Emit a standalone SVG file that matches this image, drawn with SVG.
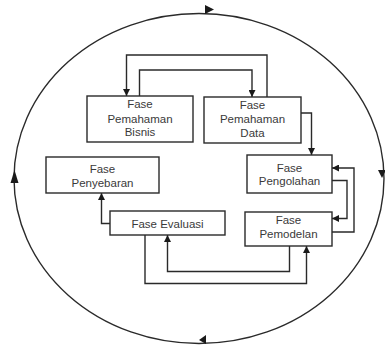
<svg xmlns="http://www.w3.org/2000/svg" width="385" height="345" viewBox="0 0 385 345">
<style>
.box{fill:#fff;stroke:#2a2a2a;stroke-width:1.4}
.ln{fill:none;stroke:#2a2a2a;stroke-width:1.4}
.t{font-family:"Liberation Sans",Arial,sans-serif;font-size:11.5px;fill:#3a3a3a;text-anchor:middle}
.ah{fill:#1a1a1a}
</style>
<defs>
<marker id="arr" viewBox="0 0 10 10" refX="10" refY="5" markerWidth="7" markerHeight="7" markerUnits="userSpaceOnUse" orient="auto">
<path d="M0,0 L10,5 L0,10 Z" fill="#1a1a1a"/>
</marker>
</defs>
<rect width="385" height="345" fill="#fff"/>
<g id="cycle">
<ellipse cx="199" cy="178.5" rx="185" ry="165" class="ln"/>
<polygon class="ah" points="205,5 214,9.5 205,14"/>
<polygon class="ah" points="14.5,170 18.5,183 10.5,183"/>
<polygon class="ah" points="378,170 386,170 382,178"/>
<polygon class="ah" points="206,335 199,340 206,344"/>
</g>
<g id="connectors">
<path class="ln" d="M267,97 V55 H126.5 V96" marker-end="url(#arr)"/>
<path class="ln" d="M139.5,96 V70 H252 V97" marker-end="url(#arr)"/>
<path class="ln" d="M301,113 H311.5 V155" marker-end="url(#arr)"/>
<path class="ln" d="M332,232 H354 V168 H332" marker-end="url(#arr)"/>
<path class="ln" d="M332,180.5 H347 V218.5 H332" marker-end="url(#arr)"/>
<path class="ln" d="M110,223.5 H101.5 V193" marker-end="url(#arr)"/>
<path class="ln" d="M289.5,246 V271.5 H167.5 V235" marker-end="url(#arr)"/>
<path class="ln" d="M145,235 V283.5 H306.5 V246" marker-end="url(#arr)"/>
</g>
<g id="bisnis">
<rect class="box" x="87" y="96" width="106" height="46"/>
<text class="t" x="140" y="108">Fase</text>
<text class="t" x="140" y="122.5">Pemahaman</text>
<text class="t" x="140" y="136">Bisnis</text>
</g>
<g id="data">
<rect class="box" x="204" y="97" width="97" height="46"/>
<text class="t" x="252.5" y="108.5">Fase</text>
<text class="t" x="252.5" y="123">Pemahaman</text>
<text class="t" x="252.5" y="137">Data</text>
</g>
<g id="pengolahan">
<rect class="box" x="247" y="155" width="85" height="38"/>
<text class="t" x="289.5" y="172">Fase</text>
<text class="t" x="289.5" y="185">Pengolahan</text>
</g>
<g id="pemodelan">
<rect class="box" x="245" y="212" width="87" height="34"/>
<text class="t" x="288.5" y="224">Fase</text>
<text class="t" x="288.5" y="237.5">Pemodelan</text>
</g>
<g id="penyebaran">
<rect class="box" x="46" y="157" width="113" height="36"/>
<text class="t" x="102.5" y="173">Fase</text>
<text class="t" x="102.5" y="186.5">Penyebaran</text>
</g>
<g id="evaluasi">
<rect class="box" x="110" y="211" width="115" height="24"/>
<text class="t" x="167.5" y="227.5">Fase Evaluasi</text>
</g>
</svg>
